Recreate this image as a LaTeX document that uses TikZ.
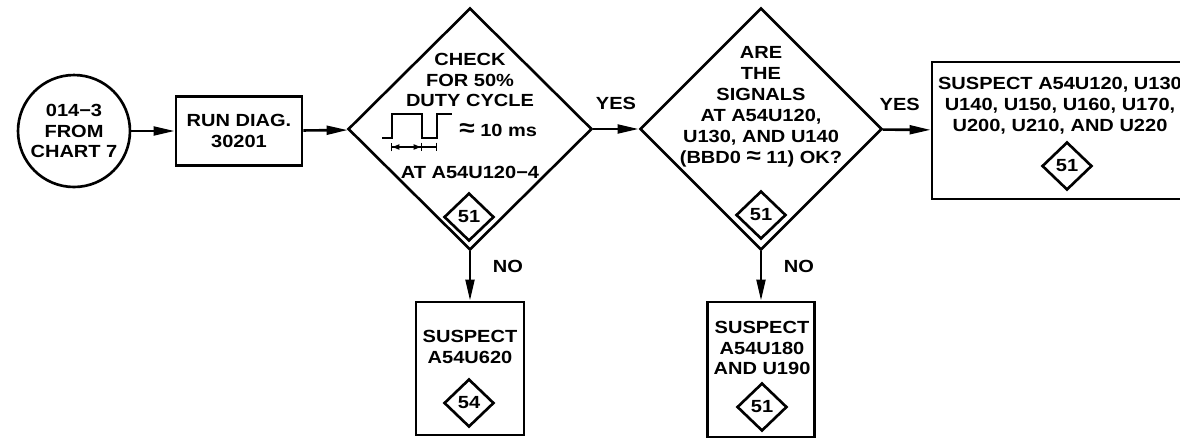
\documentclass[tikz,border=0pt]{standalone}
\usepackage{fontspec}
\setmainfont{Liberation Sans}[FakeStretch=1.14]
\usetikzlibrary{shapes.geometric,arrows.meta}
\tikzset{
  box/.style={draw, rectangle, inner sep=0pt},
  decision/.style={draw, diamond, inner sep=0pt},
  refmark/.style={draw, diamond, inner sep=0pt, minimum width=1cm, minimum height=0.96cm},
  txt/.style={align=center, inner sep=0pt},
}
\begin{document}
\begin{tikzpicture}[x=0.02cm, y=-0.02cm, line width=1.5pt,
    >={Triangle[length=12pt,width=5pt]},
    font=\bfseries\fontsize{10}{11.9}\selectfont]
    \path[use as bounding box, clip] (0,0) rectangle (1180,441);

    \node[draw, circle, minimum size=2.24cm, txt] (start) at (74,131) {014−3\\FROM\\CHART 7};
    \node[box, minimum width=2.52cm, minimum height=1.38cm, txt] (run) at (239,131) {RUN DIAG.\\30201};

    \node[decision, minimum width=4.88cm, minimum height=4.84cm] (duty) at (470,129) {};
    \node[txt] (dutyq) at (470,80) {CHECK\\FOR 50\%\\DUTY CYCLE};
    \draw[line width=1pt] (382,138) -- (392,138) -- (392,114) -- (422,114) -- (422,138)
      -- (437,138) -- (437,114) -- (452,114);
    \draw[line width=0.8pt, {Bar[width=5pt]Triangle[length=4pt,width=3pt]}-{Triangle[length=4pt,width=3pt]Bar[width=5pt]}] (391,147) -- (422,147);
    \draw[line width=0.8pt, -{Bar[width=5pt]}] (422,147) -- (437,147);
    \node[txt, anchor=west] (approx) at (458,130) {{\fontsize{14}{14}\selectfont ≈} 10 ms};
    \node[txt] (dutyat) at (470,172) {AT A54U120−4};
    \node[refmark] (dutyref) at (469,217) {51};

    \node[decision, minimum width=4.84cm, minimum height=4.84cm] (sig) at (761,129) {};
    \node[txt] (sigq) at (761,107) {ARE\\THE\\SIGNALS\\AT A54U120,\\U130, AND U140\\(BBD0 {\fontsize{13}{12}\selectfont ≈} 11) OK?};
    \node[refmark] (sigref) at (761,215) {51};

    \node[box, minimum width=5.12cm, minimum height=2.74cm] (bad) at (1060,130.5) {};
    \node[txt] (badtxt) at (1060,106) {SUSPECT A54U120, U130\\U140, U150, U160, U170,\\U200, U210, AND U220};
    \node[refmark] (badref) at (1067,166) {51};

    \node[box, minimum width=2.16cm, minimum height=2.66cm] (u620) at (470,368.5) {};
    \node[txt] (u620txt) at (470,347) {SUSPECT\\A54U620};
    \node[refmark] (u620ref) at (469,403) {54};

    \node[box, minimum width=2.14cm, minimum height=2.7cm] (u180) at (761,369.5) {};
    \node[txt] (u180txt) at (762,348) {SUSPECT\\A54U180\\AND U190};
    \node[refmark] (u180ref) at (762,407) {51};

    \draw[->] (start) -- (run);
    \draw[->] (run) -- (duty);
    \draw[->] (duty) -- node[above=7pt] {YES} (sig);
    \draw[->] (sig) -- node[above=7pt, xshift=-4pt] {YES} (bad);
    \draw[->] (duty.south) -- node[pos=0.3, right=9pt] {NO} (u620);
    \draw[->] (sig.south) -- node[pos=0.3, right=9pt] {NO} (u180);
\end{tikzpicture}
\end{document}
